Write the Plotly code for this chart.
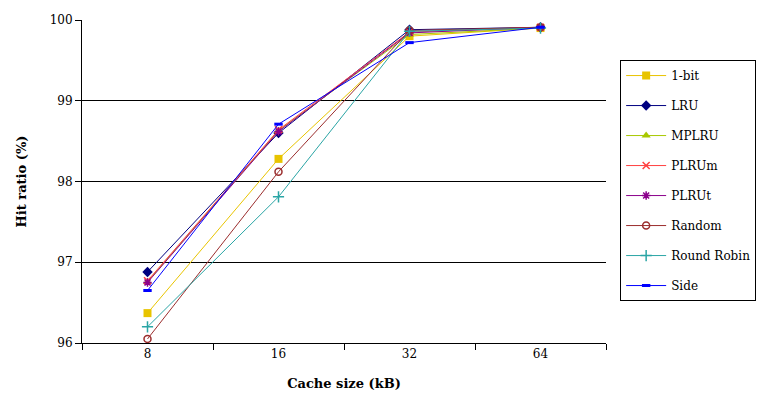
import plotly.graph_objects as go

categories = ["8", "16", "32", "64"]
series_names = ["1-bit", "LRU", "MPLRU", "PLRUm", "PLRUt", "Random", "Round Robin", "Side"]
one_bit = [96.37, 98.28, 99.80, 99.90]
lru = [96.88, 98.60, 99.88, 99.91]
mplru = [96.76, 98.63, 99.82, 99.90]
plrum = [96.77, 98.64, 99.85, 99.91]
plrut = [96.75, 98.62, 99.84, 99.91]
random_ = [96.05, 98.12, 99.87, 99.91]
round_robin = [96.20, 97.81, 99.86, 99.90]
side = [96.65, 98.71, 99.72, 99.91]
y_ticks = [96, 97, 98, 99, 100]

values = [one_bit, lru, mplru, plrum, plrut, random_, round_robin, side]
styles = [
    dict(color="#E8C400", symbol="square", size=8, mlw=0),
    dict(color="#000080", symbol="diamond", size=8, mlw=0),
    dict(color="#A8C800", symbol="triangle-up", size=8, mlw=0),
    dict(color="#FF4040", symbol="x-thin-open", size=7, mlw=1.5),
    dict(color="#8B008B", symbol="asterisk-open", size=7, mlw=1.5),
    dict(color="#9B2D2D", symbol="circle-open", size=7, mlw=1.5),
    dict(color="#2AA5A5", symbol="cross-thin-open", size=8, mlw=1.5),
    dict(color="#0000FF", symbol="line-ew-open", size=6, mlw=3),
]

fig = go.Figure()
for name, vals, st in zip(series_names, values, styles):
    fig.add_trace(go.Scatter(
        x=categories, y=vals, name=name, mode="lines+markers",
        legendgroup=name,
        line=dict(color=st["color"], width=1),
        marker=dict(symbol=st["symbol"], size=st["size"], color=st["color"],
                    line=dict(color=st["color"], width=st["mlw"])),
    ))

font_family = "DejaVu Serif"
fig.update_layout(
    width=771, height=412,
    margin=dict(l=82, r=165, t=20, b=69, autoexpand=False),
    plot_bgcolor="white", paper_bgcolor="white",
    font=dict(family=font_family, size=12, color="black"),
    showlegend=True,
    legend=dict(
        x=1.027, y=0.876, xanchor="left", yanchor="top",
        bordercolor="black", borderwidth=1,
        font=dict(family=font_family, size=12, color="black"),
        tracegroupgap=11, itemwidth=40,
    ),
    xaxis=dict(
        type="category", range=[-0.5, 3.5], tickson="boundaries", ticks="outside", ticklen=6,
        showline=True, linecolor="black", linewidth=1, tickcolor="black",
        showgrid=False,
        title=dict(text="<b>Cache size (kB)</b>", standoff=18,
                   font=dict(family=font_family, size=13)),
    ),
    yaxis=dict(
        range=[96, 100], tickvals=y_ticks, ticks="outside", ticklen=6,
        showline=True, linecolor="black", linewidth=1, tickcolor="black",
        showgrid=True, gridcolor="black", gridwidth=1, zeroline=False,
        title=dict(text="<b>Hit ratio (%)</b>", standoff=20,
                   font=dict(family=font_family, size=13)),
    ),
)

fig.write_html("out.html")
